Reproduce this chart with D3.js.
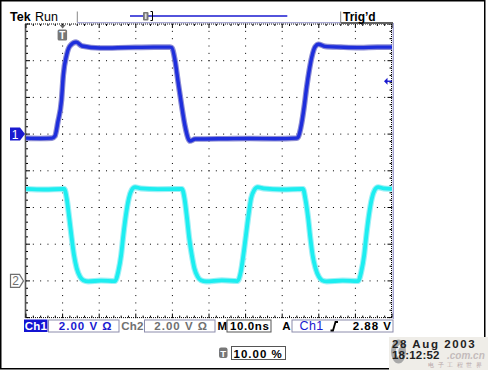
<!DOCTYPE html>
<html>
<head>
    <script src="https://cdnjs.cloudflare.com/ajax/libs/d3/7.8.5/d3.min.js"></script>
    <style>
        body { margin: 0; background: #fff; }
        text { font-family: "Liberation Sans", Arial, sans-serif; }
    </style>
</head>
<body>
    <div id="scope"></div>
    <script>
        const width = 488, height = 370;

        // time axis in ns relative to trigger point, 10 ns/div
        const timeDomain = [-10, 90];
        const ch1T = [-10, -6, -2.9, -2.1, -1.3, -0.3, 0.2, 1.1, 2.0, 3.7, 5.3, 10.2, 18, 25, 29.3,
                      29.8, 30.7, 31.6, 32.5, 33.4, 34.3, 34.8, 36.2,
                      45, 51.2, 58, 64.0,
                      64.4, 65.3, 66.0, 66.7, 67.4, 68.1, 69.0, 69.9, 71.7,
                      76, 81.3, 86, 90];
        const ch1V = [-0.22, -0.24, -0.22, -0.11, 0.65, 1.85, 3.22, 4.31, 4.80, 5.01, 4.80, 4.69, 4.72, 4.74, 4.74,
                      4.72, 4.03, 2.78, 1.58, 0.49, -0.23, -0.38, -0.27,
                      -0.25, -0.24, -0.25, -0.22,
                      -0.15, 0.58, 1.49, 2.58, 3.49, 4.21, 4.76, 4.90, 4.78,
                      4.74, 4.71, 4.74, 4.74];
        // Ch2 samples, 2.00 V/div, ground 3 div below centre
        const ch2T = [-10, -5, 0.46, 1.12, 1.83, 2.49, 3.11, 3.85, 4.75, 5.66, 7.0,
                      10.5, 14.3, 15.2, 16.0, 16.6, 17.3, 18.1, 18.9, 19.8, 21.4,
                      26, 32.6, 33.3, 34.0, 34.6, 35.3, 36.0, 36.9, 37.8, 39.2,
                      43.5, 47.8, 48.7, 49.4, 50.1, 50.8, 51.5, 52.4, 53.3, 54.9,
                      60, 65.7, 66.3, 67.1, 67.7, 68.3, 69.1, 70.0, 70.9, 72.2,
                      76.5, 80.7, 81.6, 82.4, 83.0, 83.7, 84.5, 85.3, 86.2, 87.8, 90];
        const ch2V = [5.01, 4.98, 5.01, 4.50, 3.41, 2.32, 1.41, 0.69, 0.23, 0.03, -0.03,
                      0.02, -0.01, 0.50, 1.41, 2.50, 3.59, 4.50, 4.96, 5.11, 5.04,
                      5.00, 5.01, 4.50, 3.41, 2.32, 1.41, 0.69, 0.23, 0.03, -0.03,
                      0.03, -0.01, 0.50, 1.41, 2.50, 3.59, 4.50, 4.96, 5.11, 5.04,
                      4.98, 5.01, 4.50, 3.41, 2.32, 1.41, 0.69, 0.23, 0.03, -0.03,
                      0.02, -0.01, 0.50, 1.41, 2.50, 3.59, 4.50, 4.96, 5.11, 5.04, 5.02];

        const voltsPerDiv = [2.0, 2.0];
        const channelPos = [1, -3];   // ground marker position in divisions
        const trigLevel = 2.88;

        const statusLabels = ["Ch1", "2.00 V \u03a9", "Ch2", "2.00 V \u03a9", "M", "10.0ns", "A", "Ch1", "2.88 V"];
        const trigPosLabel = "10.00 %";
        const dateLabels = ["28 Aug 2003", "18:12:52"];
        const watermark = ["电子工程世界", ".com.cn"];

        const svg = d3.select("#scope").append("svg").attr("width", width).attr("height", height);

        const x = d3.scaleLinear().domain(timeDomain).range([26, 392]);
        const y = d3.scaleLinear().domain([-4, 4]).range([317.6, 24]);

        // outer frame
        svg.append("rect").attr("x", 0.75).attr("y", 0.75).attr("width", 484).attr("height", 368)
            .attr("fill", "#fff").attr("stroke", "#000").attr("stroke-width", 1.5);

        // graticule dots
        const grid = svg.append("g");
        const sub = d3.range(0, 40.01, 1).map(i => i / 5);      // 0..8 div in 0.2 steps
        const subX = d3.range(0, 50.01, 1).map(i => i / 5);     // 0..10 div
        d3.range(1, 10).forEach(i => {
            grid.selectAll(null).data(sub).enter().append("rect")
                .attr("x", x(timeDomain[0] + i * 10) - 0.5).attr("y", d => y(-4 + d) - 0.5)
                .attr("width", 1).attr("height", 1).attr("fill", "#000");
        });
        d3.range(1, 8).forEach(j => {
            grid.selectAll(null).data(subX).enter().append("rect")
                .attr("x", d => x(timeDomain[0] + d * 10) - 0.5).attr("y", y(-4 + j) - 0.5)
                .attr("width", 1).attr("height", 1).attr("fill", "#000");
        });

        // frame of graticule
        grid.append("line").attr("x1", 25).attr("x2", 392).attr("y1", 24).attr("y2", 24)
            .attr("stroke", "#000").attr("stroke-dasharray", "1,1");
        grid.append("line").attr("x1", 25).attr("x2", 392).attr("y1", 317.6).attr("y2", 317.6)
            .attr("stroke", "#000").attr("stroke-dasharray", "1,1");
        grid.append("line").attr("x1", 25.5).attr("x2", 25.5).attr("y1", 24).attr("y2", 318)
            .attr("stroke", "#555").attr("stroke-width", 1.6);
        grid.append("line").attr("x1", 391.5).attr("x2", 391.5).attr("y1", 24).attr("y2", 318)
            .attr("stroke", "#000").attr("stroke-dasharray", "1,1");
        grid.append("line").attr("x1", 393.3).attr("x2", 393.3).attr("y1", 23).attr("y2", 319)
            .attr("stroke", "#a4a4d4").attr("stroke-width", 1.4);

        // border ticks, longer at each division
        const isMajor = d => Math.abs(d - Math.round(d)) < 1e-6;
        subX.forEach(d => {
            const len = isMajor(d) ? 4 : 2;
            const xx = x(timeDomain[0] + d * 10);
            grid.append("line").attr("x1", xx).attr("x2", xx).attr("y1", 24).attr("y2", 24 + len).attr("stroke", "#000");
            grid.append("line").attr("x1", xx).attr("x2", xx).attr("y1", 317.6).attr("y2", 317.6 - len).attr("stroke", "#000");
        });
        sub.forEach(d => {
            const len = isMajor(d) ? 4 : 2;
            const yy = y(-4 + d);
            grid.append("line").attr("x1", 26).attr("x2", 26 + len).attr("y1", yy).attr("y2", yy).attr("stroke", "#000");
            grid.append("line").attr("x1", 391.5).attr("x2", 391.5 - len).attr("y1", yy).attr("y2", yy).attr("stroke", "#000");
        });

        // traces
        function trace(ts, vs, ch) {
            const pts = ts.map((t, i) => [t, vs[i]]);
            return d3.line()
                .x(d => x(d[0]))
                .y(d => y(channelPos[ch] + d[1] / voltsPerDiv[ch]))
                .curve(d3.curveMonotoneX)(pts);
        }
        const traces = svg.append("g").attr("fill", "none").attr("stroke-linejoin", "round");
        traces.append("path").attr("d", trace(ch2T, ch2V, 1)).attr("stroke", "#9ef0f6").attr("stroke-width", 6);
        traces.append("path").attr("d", trace(ch2T, ch2V, 1)).attr("stroke", "#1ceef0").attr("stroke-width", 3.8);
        traces.append("path").attr("d", trace(ch1T, ch1V, 0)).attr("stroke", "#8c8cd4").attr("stroke-width", 5.6);
        traces.append("path").attr("d", trace(ch1T, ch1V, 0)).attr("stroke", "#1e2edc").attr("stroke-width", 3.4);

        // channel ground markers
        const g1 = y(channelPos[0]), g2 = y(channelPos[1]);
        svg.append("path").attr("d", `M10,${g1 - 6.5}H20L25,${g1}L20,${g1 + 6.5}H10Z`).attr("fill", "#1a1ad0");
        svg.append("text").attr("x", 15).attr("y", g1 + 4.5).attr("text-anchor", "middle")
            .attr("fill", "#fff").attr("font-size", 12).text("1");
        svg.append("path").attr("d", `M10.5,${g2 - 6.5}H19.5L23.5,${g2}L19.5,${g2 + 6.5}H10.5Z`)
            .attr("fill", "#fff").attr("stroke", "#707070").attr("stroke-width", 1.2);
        svg.append("text").attr("x", 15.5).attr("y", g2 + 4.5).attr("text-anchor", "middle")
            .attr("fill", "#707070").attr("font-size", 12).text("2");

        // trigger position marker
        const tx = x(0);
        svg.append("path").attr("d", `M${tx - 3},25H${tx + 3}L${tx},28.5Z`).attr("fill", "#666");
        svg.append("rect").attr("x", tx - 5).attr("y", 29.5).attr("width", 9.5).attr("height", 11).attr("rx", 1.5).attr("fill", "#777");
        svg.append("text").attr("x", tx - 0.2).attr("y", 39).attr("text-anchor", "middle")
            .attr("fill", "#fff").attr("font-size", 10).attr("font-weight", "bold").text("T");

        // trigger level marker
        const ty = y(channelPos[0] + trigLevel / voltsPerDiv[0]);
        svg.append("path").attr("d", `M384,${ty}L387.5,${ty - 3.5}V${ty + 3.5}Z`).attr("fill", "#1a1ad0");
        svg.append("line").attr("x1", 386).attr("x2", 392).attr("y1", ty).attr("y2", ty)
            .attr("stroke", "#1a1ad0").attr("stroke-width", 1.4);

        // top bar
        svg.append("text").attr("x", 10).attr("y", 21).attr("font-size", 12.5).attr("font-weight", "bold").text("Tek");
        svg.append("text").attr("x", 35).attr("y", 21).attr("font-size", 12.5).text("Run");
        svg.append("line").attr("x1", 77.3).attr("x2", 77.3).attr("y1", 11.5).attr("y2", 22.5).attr("stroke", "#888");
        svg.append("line").attr("x1", 77).attr("x2", 341).attr("y1", 22.6).attr("y2", 22.6).attr("stroke", "#a8a8d4").attr("stroke-width", 1.2);
        svg.append("line").attr("x1", 340.7).attr("x2", 340.7).attr("y1", 11.5).attr("y2", 22.5).attr("stroke", "#888");
        svg.append("line").attr("x1", 340.7).attr("x2", 393).attr("y1", 23).attr("y2", 23).attr("stroke", "#606060").attr("stroke-width", 2);
        svg.append("text").attr("x", 343).attr("y", 21).attr("font-size", 12).attr("font-weight", "bold").text("Trig\u2019d");
        svg.append("line").attr("x1", 130).attr("x2", 287.3).attr("y1", 16).attr("y2", 16).attr("stroke", "#1a1ad0").attr("stroke-width", 1.3);
        svg.append("rect").attr("x", 143).attr("y", 12).attr("width", 5.5).attr("height", 8.5).attr("rx", 1).attr("fill", "#777");
        svg.append("rect").attr("x", 144.8).attr("y", 13.5).attr("width", 1.8).attr("height", 5.5).attr("fill", "#ddd");
        svg.append("path").attr("d", "M150.5,11.5H152.5V20.5H150.5").attr("fill", "none").attr("stroke", "#000").attr("stroke-width", 1);

        // status bar
        const sb = svg.append("g").attr("font-size", 11.5).attr("font-weight", "bold").attr("letter-spacing", 1);
        const boxStroke = "#8c8cac";
        sb.append("rect").attr("x", 24).attr("y", 319.5).attr("width", 23.5).attr("height", 12.5).attr("fill", "#1414d2");
        sb.append("text").attr("x", 36).attr("y", 330).attr("text-anchor", "middle").attr("letter-spacing", 0.3)
            .attr("fill", "#fff").text(statusLabels[0]);
        sb.append("rect").attr("x", 48.5).attr("y", 320).attr("width", 70.5).attr("height", 12).attr("fill", "none").attr("stroke", boxStroke);
        sb.append("text").attr("x", 112.5).attr("y", 330).attr("text-anchor", "end").attr("fill", "#1a1ad0").text(statusLabels[1]);
        sb.append("text").attr("x", 132.5).attr("y", 330).attr("text-anchor", "middle").attr("letter-spacing", 0.3)
            .attr("fill", "#707070").text(statusLabels[2]);
        sb.append("rect").attr("x", 144.5).attr("y", 320).attr("width", 70.5).attr("height", 12).attr("fill", "none").attr("stroke", boxStroke);
        sb.append("text").attr("x", 208).attr("y", 330).attr("text-anchor", "end").attr("fill", "#707070").text(statusLabels[3]);
        sb.append("text").attr("x", 222.3).attr("y", 330).attr("text-anchor", "middle").attr("letter-spacing", 0).text(statusLabels[4]);
        sb.append("rect").attr("x", 227).attr("y", 320).attr("width", 44).attr("height", 12).attr("fill", "none").attr("stroke", "#555");
        sb.append("text").attr("x", 230).attr("y", 330).attr("letter-spacing", 0.6).text(statusLabels[5]);
        sb.append("text").attr("x", 286.3).attr("y", 330).attr("text-anchor", "middle").attr("letter-spacing", 0).text(statusLabels[6]);
        sb.append("rect").attr("x", 292).attr("y", 320).attr("width", 101).attr("height", 12).attr("fill", "none").attr("stroke", boxStroke);
        sb.append("text").attr("x", 311.5).attr("y", 330).attr("text-anchor", "middle").attr("font-weight", "normal")
            .attr("font-size", 12.5).attr("letter-spacing", 0.3).attr("fill", "#1a1ad0").text(statusLabels[7]);
        sb.append("path").attr("d", "M330.5,330.5H333L335.5,322H338").attr("fill", "none").attr("stroke", "#000").attr("stroke-width", 1.8);
        sb.append("text").attr("x", 392).attr("y", 330).attr("text-anchor", "end").text(statusLabels[8]);

        // trigger position readout
        svg.append("rect").attr("x", 219).attr("y", 347.5).attr("width", 8.5).attr("height", 10.5).attr("rx", 2).attr("fill", "#777");
        svg.append("text").attr("x", 223.2).attr("y", 356.5).attr("text-anchor", "middle").attr("font-size", 9.5)
            .attr("font-weight", "bold").attr("fill", "#fff").text("T");
        svg.append("rect").attr("x", 231.5).attr("y", 346.5).attr("width", 54).attr("height", 13).attr("fill", "none").attr("stroke", "#555");
        svg.append("text").attr("x", 233.5).attr("y", 357.5).attr("font-size", 11.5).attr("font-weight", "bold")
            .attr("letter-spacing", 1).text(trigPosLabel);

        // date corner with watermark
        svg.append("rect").attr("x", 389).attr("y", 337).attr("width", 99).attr("height", 33).attr("fill", "#efede8");
        svg.append("ellipse").attr("cx", 398.5).attr("cy", 351.5).attr("rx", 7.5).attr("ry", 12).attr("fill", "#a8a8a8");
        svg.append("path").attr("d", "M402,345.5A5,6 0 1 0 402,357.5").attr("fill", "none").attr("stroke", "#eee").attr("stroke-width", 2.5);
        svg.append("text").attr("x", 428).attr("y", 367).attr("font-family", "Noto Sans CJK SC").attr("font-size", 6)
            .attr("fill", "#b8a8a8").attr("letter-spacing", 3.5).text(watermark[0]);
        svg.append("text").attr("x", 392).attr("y", 347.5).attr("font-size", 11.5).attr("font-weight", "bold")
            .attr("letter-spacing", 1.6).attr("fill", "#222").text(dateLabels[0]);
        svg.append("text").attr("x", 392).attr("y", 359).attr("font-size", 11.5).attr("font-weight", "bold")
            .attr("letter-spacing", 0.2).attr("fill", "#222").text(dateLabels[1]);
        svg.append("text").attr("x", 447).attr("y", 359).attr("font-size", 10).attr("font-style", "italic")
            .attr("font-weight", "bold").attr("fill", "#c4bcbc").text(watermark[1]);
    </script>
</body>
</html>
